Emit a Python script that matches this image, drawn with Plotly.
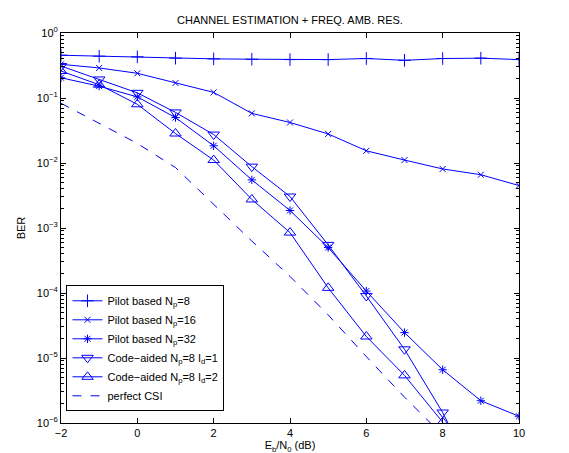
import plotly.graph_objects as go

x_full = [-2, -1, 0, 1, 2, 3, 4, 5, 6, 7, 8, 9, 10]
x_ca = [-2, -1, 0, 1, 2, 3, 4, 5, 6, 7, 8, 9]
x_csi = [-2, -1, 0, 1, 2, 3, 4, 5, 6, 7, 8]

pilot_np8 = [0.455, 0.44, 0.43, 0.41, 0.40, 0.395, 0.39, 0.39, 0.405, 0.38, 0.405, 0.41, 0.39]
pilot_np16 = [0.33, 0.29, 0.24, 0.17, 0.122, 0.058, 0.042, 0.028, 0.0154, 0.0111, 0.0081, 0.0066, 0.0045]
pilot_np32 = [0.205, 0.152, 0.104, 0.05, 0.0184, 0.0055, 0.00186, 0.0005, 0.000107, 2.46e-5, 6.6e-6, 2.2e-6, 1.27e-6]
code_id1 = [0.31, 0.193, 0.12, 0.06, 0.0274, 0.0088, 0.00305, 0.00055, 9e-5, 1.36e-5, 1.45e-6, 1e-7]
code_id2 = [0.26, 0.16, 0.08, 0.0284, 0.0111, 0.00275, 0.00085, 0.00012, 2.14e-5, 5.4e-6, 1.03e-6, 8e-8]
perfect_csi = [0.083, 0.041, 0.020, 0.0085, 0.0023, 6.3e-4, 1.8e-4, 4.6e-5, 1.05e-5, 2.5e-6, 6.5e-7]

names = [
    "Pilot based N<sub>p</sub>=8",
    "Pilot based N<sub>p</sub>=16",
    "Pilot based N<sub>p</sub>=32",
    "Code\u2212aided N<sub>p</sub>=8 I<sub>d</sub>=1",
    "Code\u2212aided N<sub>p</sub>=8 I<sub>d</sub>=2",
    "perfect CSI",
]

y_tickvals = [1e-6, 1e-5, 1e-4, 1e-3, 1e-2, 1e-1, 1]
y_ticktext = ["10<sup>\u22126</sup>", "10<sup>\u22125</sup>", "10<sup>\u22124</sup>",
              "10<sup>\u22123</sup>", "10<sup>\u22122</sup>", "10<sup>\u22121</sup>", "10<sup>0</sup>"]
x_tickvals = [-2, 0, 2, 4, 6, 8, 10]
x_ticktext = ["\u22122", "0", "2", "4", "6", "8", "10"]

BLUE = "#0000ff"
FONT = "Liberation Sans, Arial, sans-serif"

fig = go.Figure()

series = [
    (x_full, pilot_np8, "cross-thin-open", 9),
    (x_full, pilot_np16, "x-thin-open", 6),
    (x_full, pilot_np32, "asterisk-open", 7),
    (x_ca, code_id1, "triangle-down-open", 10),
    (x_ca, code_id2, "triangle-up-open", 10),
]
for (xs, ys, sym, sz), nm in zip(series, names[:5]):
    fig.add_trace(go.Scatter(
        x=xs, y=ys, name=nm, mode="lines+markers",
        line=dict(color=BLUE, width=1),
        marker=dict(symbol=sym, size=sz, color=BLUE, line=dict(color=BLUE, width=1)),
    ))

fig.add_trace(go.Scatter(
    x=x_csi, y=perfect_csi, name=names[5], mode="lines",
    line=dict(color=BLUE, width=1, dash="dash"),
))

fig.update_layout(
    width=569, height=453,
    margin=dict(l=53, r=58, t=25, b=36),
    paper_bgcolor="white", plot_bgcolor="white",
    font=dict(family=FONT, size=11, color="black"),
    title=dict(text="CHANNEL ESTIMATION + FREQ. AMB. RES.", x=0.5, xref="paper",
               y=1 - 12 / 453, yanchor="middle", font=dict(size=11)),
    showlegend=True,
    legend=dict(x=0.012, y=0.03, xanchor="left", yanchor="bottom",
                bordercolor="black", borderwidth=1, bgcolor="white",
                font=dict(size=11), itemwidth=30, tracegroupgap=0),
)

fig.update_xaxes(
    range=[-2, 10], tickvals=x_tickvals, ticktext=x_ticktext,
    ticks="inside", ticklen=5, tickcolor="black",
    showline=True, linecolor="black", linewidth=1, mirror="ticks",
    showgrid=False, zeroline=False,
    title=dict(text="E<sub>b</sub>/N<sub>0</sub> (dB)", standoff=2, font=dict(size=11)),
)
fig.update_yaxes(
    type="log", range=[-6, 0], tickvals=y_tickvals, ticktext=y_ticktext,
    ticks="inside", ticklen=5, tickcolor="black",
    showline=True, linecolor="black", linewidth=1, mirror="ticks",
    showgrid=False, zeroline=False,
    minor=dict(ticks="inside", ticklen=3, tickcolor="black", dtick="D1", showgrid=False),
    title=dict(text="BER", standoff=8, font=dict(size=11)),
)

fig.write_html("out.html")
